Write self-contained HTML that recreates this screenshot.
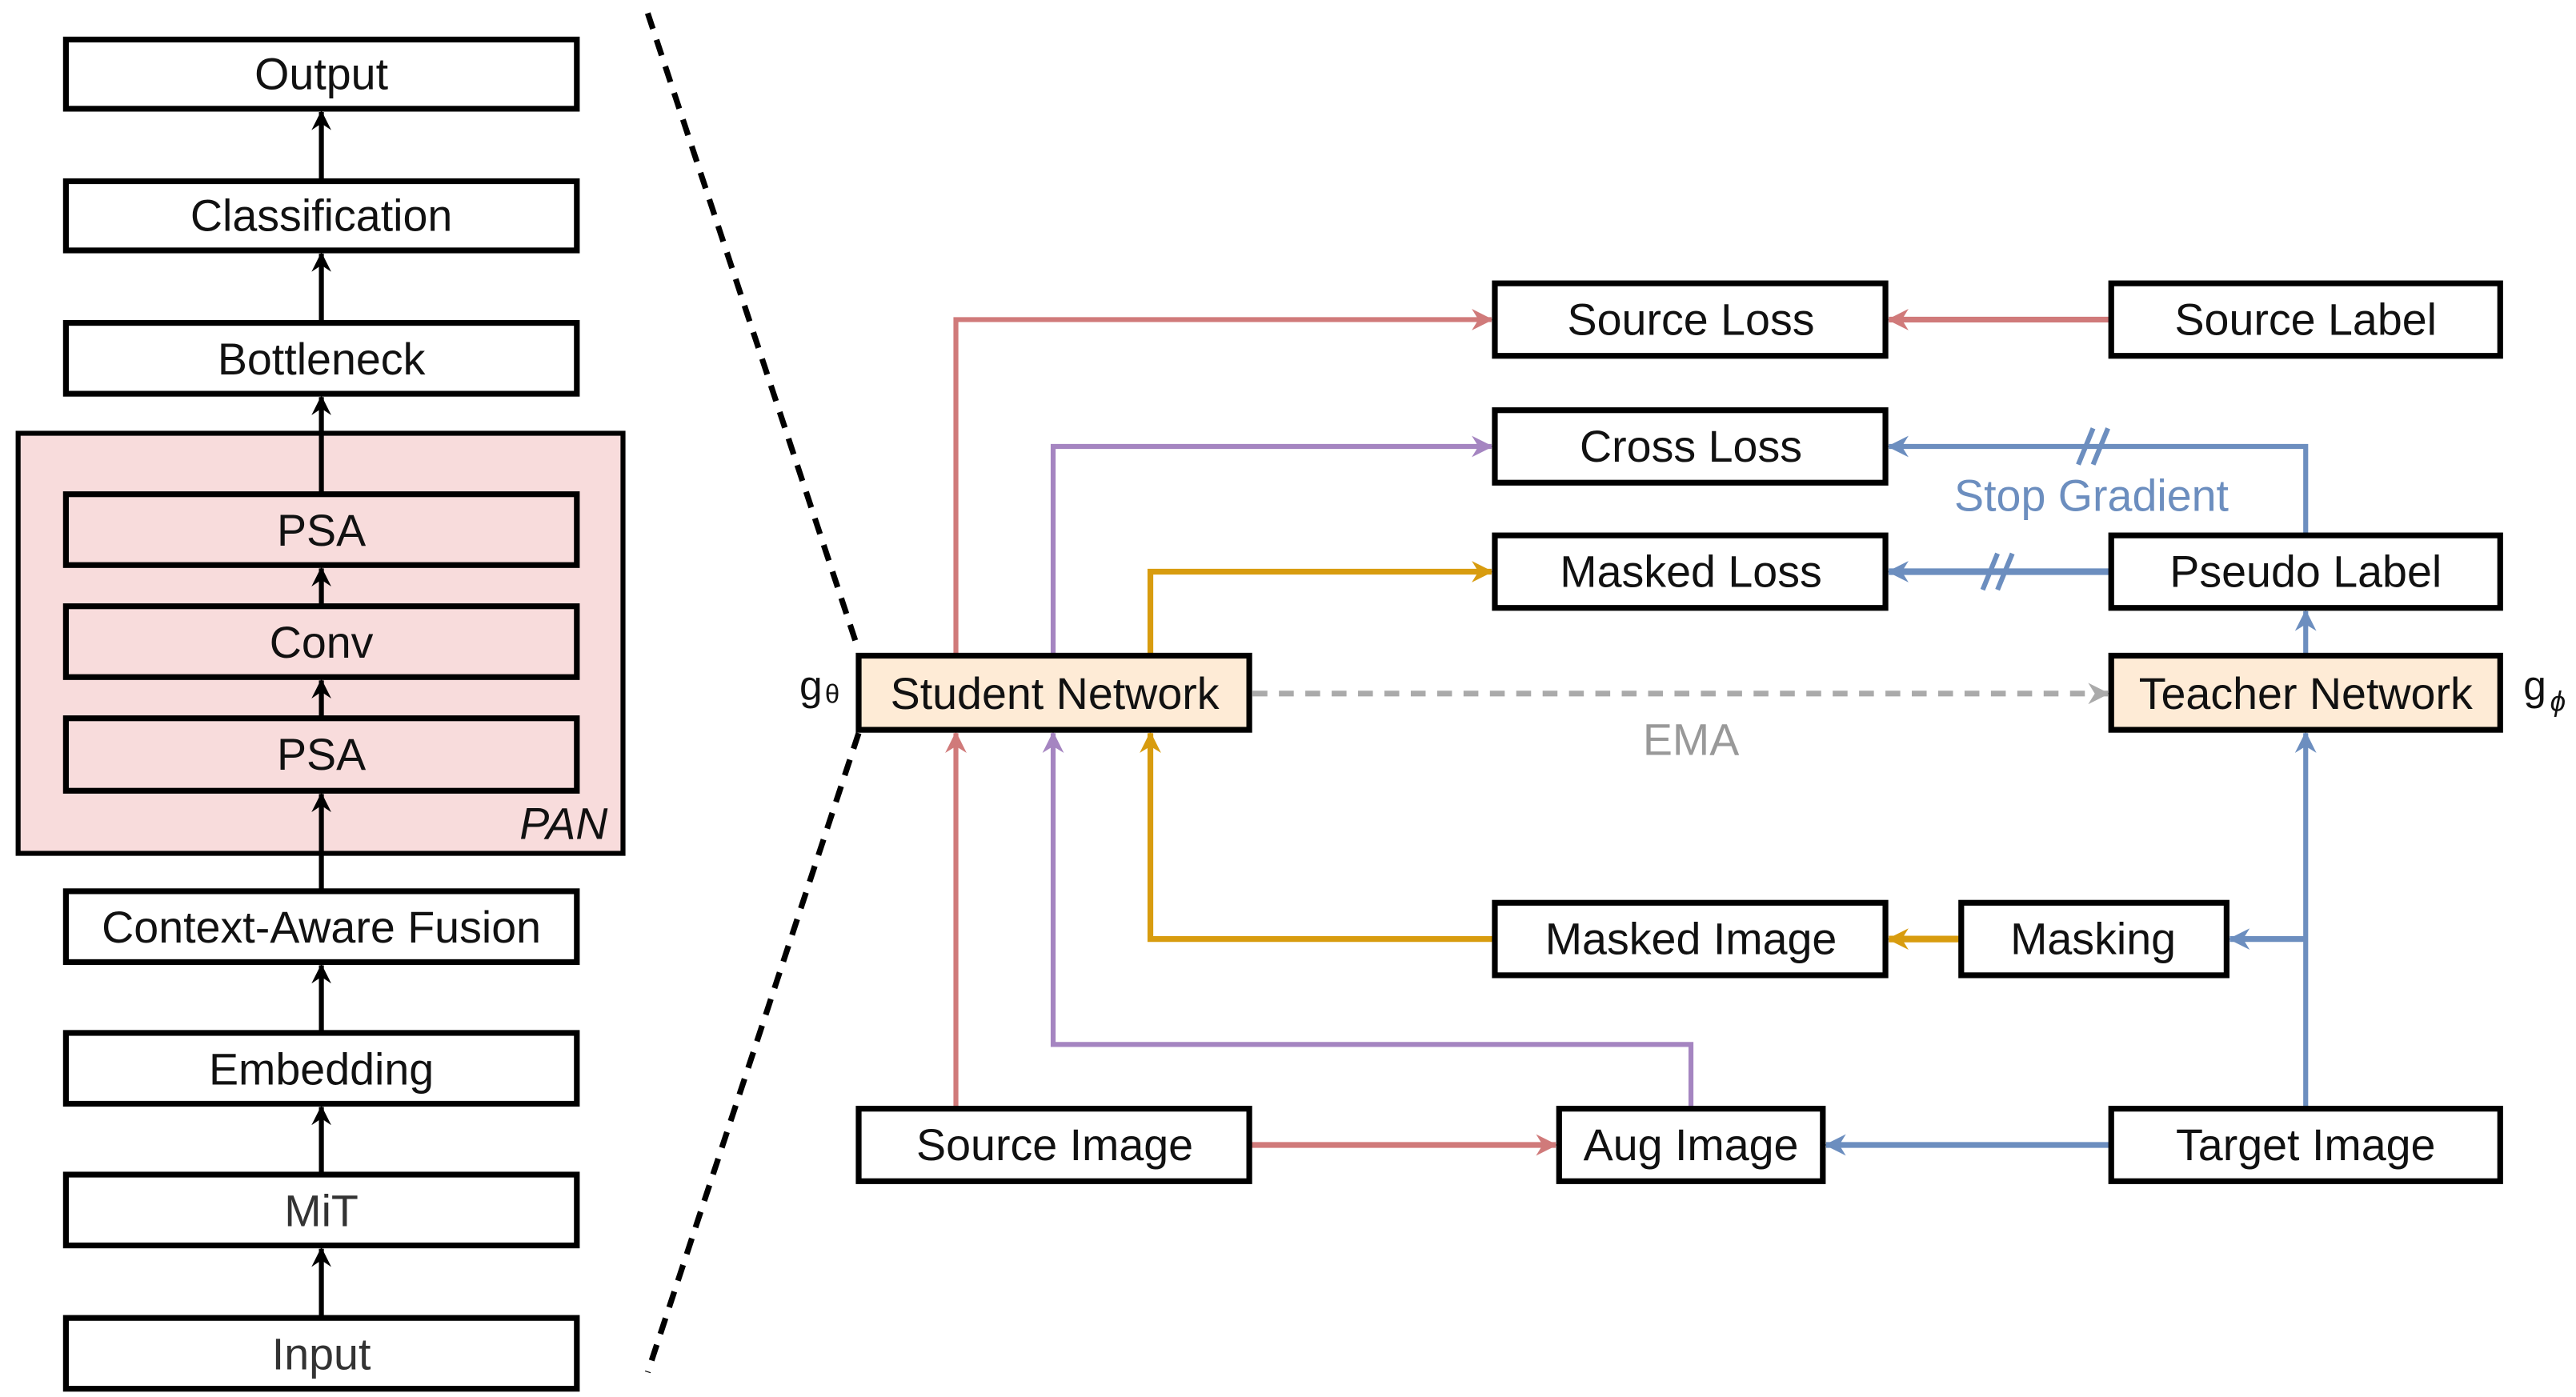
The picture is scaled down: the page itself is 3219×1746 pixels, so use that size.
<!DOCTYPE html>
<html><head><meta charset="utf-8"><style>
html,body{margin:0;padding:0;background:#fff;}
svg{display:block}
text{font-family:"Liberation Sans",Arial,sans-serif;font-size:27px;text-anchor:middle;dominant-baseline:central;fill:#111}
</style></head><body>
<svg width="3219" height="1746" viewBox="0 0 1563 848" preserveAspectRatio="none" xmlns="http://www.w3.org/2000/svg">
<defs>
<marker id="ak" markerWidth="12" markerHeight="12" refX="11" refY="6" orient="auto" markerUnits="userSpaceOnUse"><path d="M0,0 L12,6 L0,12 L4,6z" fill="#000"/></marker>
<marker id="ar" markerWidth="13" markerHeight="13" refX="12" refY="6.5" orient="auto" markerUnits="userSpaceOnUse"><path d="M0,0 L13,6.5 L0,13 L4,6.5z" fill="#d07a7a"/></marker>
<marker id="ap" markerWidth="13" markerHeight="13" refX="12" refY="6.5" orient="auto" markerUnits="userSpaceOnUse"><path d="M0,0 L13,6.5 L0,13 L4,6.5z" fill="#a585c1"/></marker>
<marker id="ao" markerWidth="13" markerHeight="13" refX="12" refY="6.5" orient="auto" markerUnits="userSpaceOnUse"><path d="M0,0 L13,6.5 L0,13 L4,6.5z" fill="#d89c0f"/></marker>
<marker id="ab" markerWidth="13" markerHeight="13" refX="12" refY="6.5" orient="auto" markerUnits="userSpaceOnUse"><path d="M0,0 L13,6.5 L0,13 L4,6.5z" fill="#6c8ebf"/></marker>
<marker id="ag" markerWidth="13" markerHeight="13" refX="12" refY="6.5" orient="auto" markerUnits="userSpaceOnUse"><path d="M0,0 L13,6.5 L0,13 L4,6.5z" fill="#aaa"/></marker>
</defs>
<path d="M393,8 L521,395 M521,445 L393,833" stroke="#000" stroke-width="3.5" stroke-dasharray="10,7" fill="none"/>
<rect x="11" y="263" width="367" height="255" fill="#f8dcdc" stroke="#000" stroke-width="3"/>
<text x="342" y="500" style="font-style:italic">PAN</text>
<g stroke="#000" stroke-width="3" fill="none">
<line x1="195" y1="110" x2="195" y2="68" marker-end="url(#ak)"/>
<line x1="195" y1="196" x2="195" y2="154" marker-end="url(#ak)"/>
<line x1="195" y1="300" x2="195" y2="241" marker-end="url(#ak)"/>
<line x1="195" y1="368" x2="195" y2="345" marker-end="url(#ak)"/>
<line x1="195" y1="436" x2="195" y2="413" marker-end="url(#ak)"/>
<line x1="195" y1="541" x2="195" y2="482" marker-end="url(#ak)"/>
<line x1="195" y1="627" x2="195" y2="586" marker-end="url(#ak)"/>
<line x1="195" y1="713" x2="195" y2="672" marker-end="url(#ak)"/>
<line x1="195" y1="800" x2="195" y2="758" marker-end="url(#ak)"/>
</g>
<g stroke="#000" stroke-width="3.5" fill="#fff">
<rect x="40" y="24" width="310" height="42"/>
<rect x="40" y="110" width="310" height="42"/>
<rect x="40" y="196" width="310" height="43"/>
<rect x="40" y="300" width="310" height="43" fill="#f8dcdc"/>
<rect x="40" y="368" width="310" height="43" fill="#f8dcdc"/>
<rect x="40" y="436" width="310" height="44" fill="#f8dcdc"/>
<rect x="40" y="541" width="310" height="43"/>
<rect x="40" y="627" width="310" height="43"/>
<rect x="40" y="713" width="310" height="43"/>
<rect x="40" y="800" width="310" height="43"/>
</g>
<text x="195" y="45">Output</text>
<text x="195" y="131">Classification</text>
<text x="195" y="218">Bottleneck</text>
<text x="195" y="322">PSA</text>
<text x="195" y="390">Conv</text>
<text x="195" y="458">PSA</text>
<text x="195" y="563">Context-Aware Fusion</text>
<text x="195" y="649">Embedding</text>
<text x="195" y="735" style="fill:#333">MiT</text>
<text x="195" y="822" style="fill:#333">Input</text>

<g fill="none" stroke-width="3">
<path d="M580,398 V194 H905" stroke="#d07a7a" marker-end="url(#ar)"/>
<path d="M1281,194 H1146" stroke="#d07a7a" stroke-width="3.5" marker-end="url(#ar)"/>
<path d="M580,673 V445" stroke="#d07a7a" marker-end="url(#ar)"/>
<path d="M758,695 H944" stroke="#d07a7a" stroke-width="3.5" marker-end="url(#ar)"/>
<path d="M639,398 V271 H905" stroke="#a585c1" marker-end="url(#ap)"/>
<path d="M1026,673 V634 H639 V445" stroke="#a585c1" marker-end="url(#ap)"/>
<path d="M698,398 V347 H905" stroke="#d89c0f" stroke-width="3.5" marker-end="url(#ao)"/>
<path d="M907,570 H698 V445" stroke="#d89c0f" stroke-width="3.5" marker-end="url(#ao)"/>
<path d="M1190,570 H1146" stroke="#d89c0f" stroke-width="4" marker-end="url(#ao)"/>
<path d="M1399,673 V445" stroke="#6c8ebf" marker-end="url(#ab)"/>
<path d="M1399,570 H1353" stroke="#6c8ebf" stroke-width="3.5" marker-end="url(#ab)"/>
<path d="M1399,398 V371" stroke="#6c8ebf" marker-end="url(#ab)"/>
<path d="M1399,325 V271 H1146" stroke="#6c8ebf" marker-end="url(#ab)"/>
<path d="M1281,347 H1146" stroke="#6c8ebf" stroke-width="4" marker-end="url(#ab)"/>
<path d="M1281,695 H1108" stroke="#6c8ebf" stroke-width="3.5" marker-end="url(#ab)"/>
<path d="M1261,282 L1270,260 M1270,282 L1279,260" stroke="#6c8ebf" stroke-width="3"/>
<path d="M1203,358 L1212,336 M1212,358 L1221,336" stroke="#6c8ebf" stroke-width="3"/>
<path d="M760,421 H1279" stroke="#aaa" stroke-width="3.5" stroke-dasharray="9,7" marker-end="url(#ag)"/>
</g>
<g stroke="#000" stroke-width="3.5" fill="#fff">
<rect x="907" y="172" width="237" height="44"/>
<rect x="1281" y="172" width="236" height="44"/>
<rect x="907" y="249" width="237" height="44"/>
<rect x="907" y="325" width="237" height="44"/>
<rect x="1281" y="325" width="236" height="44"/>
<rect x="521" y="398" width="237" height="45" fill="#feebd6"/>
<rect x="1281" y="398" width="236" height="45" fill="#feebd6"/>
<rect x="907" y="548" width="237" height="44"/>
<rect x="1190" y="548" width="161" height="44"/>
<rect x="521" y="673" width="237" height="44"/>
<rect x="946" y="673" width="160" height="44"/>
<rect x="1281" y="673" width="236" height="44"/>
</g>
<g style="fill:#333">
<text x="1026" y="194">Source Loss</text>
<text x="1399" y="194">Source Label</text>
<text x="1026" y="271">Cross Loss</text>
<text x="1026" y="347">Masked Loss</text>
<text x="1399" y="347">Pseudo Label</text>
<text x="1026" y="570">Masked Image</text>
<text x="1270" y="570">Masking</text>
<text x="640" y="695">Source Image</text>
<text x="1026" y="695">Aug Image</text>
<text x="1399" y="695">Target Image</text>
</g>
<text x="640" y="421">Student Network</text>
<text x="1399" y="421">Teacher Network</text>
<text x="1269" y="301" style="fill:#6c8ebf">Stop Gradient</text>
<text x="1026" y="449" style="fill:#999">EMA</text>
<text x="492" y="416" style="font-size:25px">g</text><text x="505" y="421" style="font-size:16px">θ</text>
<text x="1538" y="416" style="font-size:25px">g</text><text x="1552" y="426" style="font-size:17px;font-style:italic">ϕ</text>
</svg>
</body></html>
